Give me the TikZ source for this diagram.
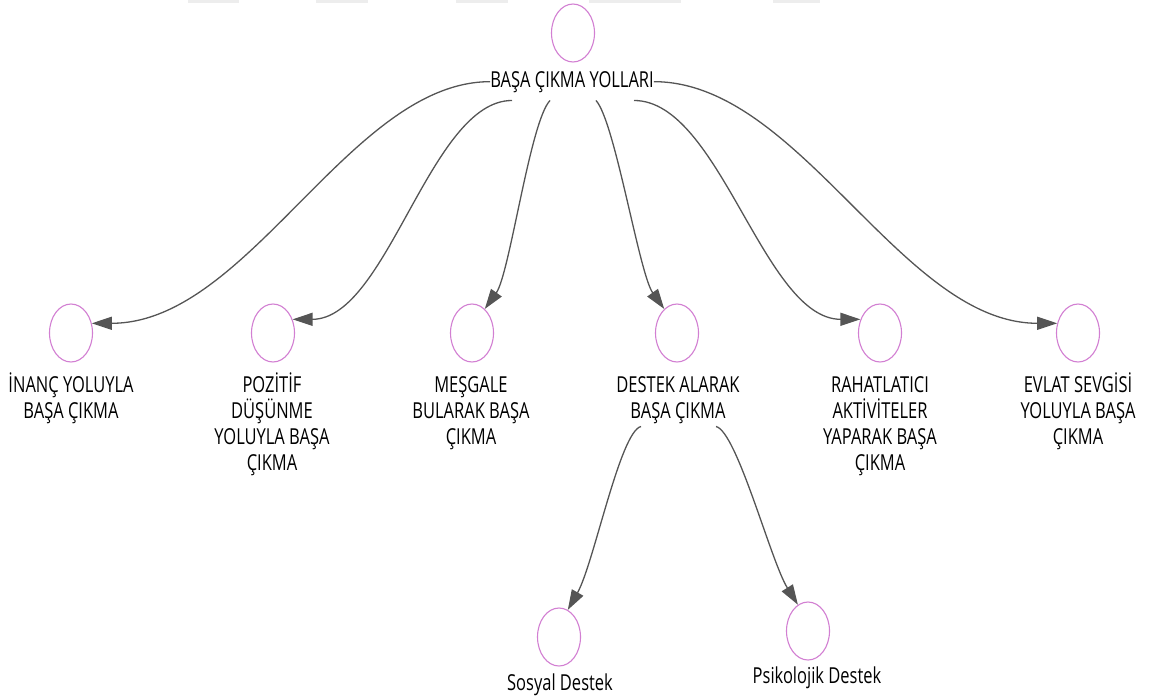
\documentclass[tikz,border=0pt]{standalone}
\usepackage{fontspec}
\setmainfont[FakeStretch=0.75]{Open Sans}
\usetikzlibrary{arrows.meta,shapes.geometric}
\definecolor{ringc}{HTML}{D27FD2}
\definecolor{linec}{HTML}{555555}
\definecolor{barc}{HTML}{EDEDED}
\tikzset{
  ring/.style={ellipse, draw=ringc, line width=1.1pt, minimum width=43pt, minimum height=58pt, inner sep=0pt},
  lbl/.style={font=\fontsize{22}{26}\selectfont, align=center, inner sep=0pt, anchor=base},
  conn/.style={draw=linec, line width=1.3pt, -{Triangle[length=20pt,width=13pt]}}
}
\begin{document}
\begin{tikzpicture}[x=1pt,y=-1pt]
\useasboundingbox (0,0) rectangle (1154,697);
% faint bars at the top edge
\foreach \a/\b in {188/239,316/368,456/508,589/681,773/820}
  \fill[barc] (\a,0) rectangle (\b,3);
% root
\node[ring] (top) at (573,33) {};
\node[lbl] (toplbl) at (572,87) {BAŞA ÇIKMA YOLLARI};
% leaves
\node[ring] (inanc) at (71,333) {};
\node[ring] (poz) at (273,333) {};
\node[ring] (mes) at (472,333) {};
\node[ring] (des) at (677,333) {};
\node[ring] (rah) at (880,333) {};
\node[ring] (evl) at (1078,333) {};
% base anchor = baseline of the last line (first line baseline at 392, pitch 26)
\node[lbl] (inanclbl) at (71,418) {İNANÇ YOLUYLA\\BAŞA ÇIKMA};
\node[lbl] (pozlbl) at (272,470) {POZİTİF\\DÜŞÜNME\\YOLUYLA BAŞA\\ÇIKMA};
\node[lbl] (meslbl) at (471,444) {MEŞGALE\\BULARAK BAŞA\\ÇIKMA};
\node[lbl] (deslbl) at (678,418) {DESTEK ALARAK\\BAŞA ÇIKMA};
\node[lbl] (rahlbl) at (880,470) {RAHATLATICI\\AKTİVİTELER\\YAPARAK BAŞA\\ÇIKMA};
\node[lbl] (evllbl) at (1078,444) {EVLAT SEVGİSİ\\YOLUYLA BAŞA\\ÇIKMA};
% sub leaves
\node[ring] (sos) at (559,637) {};
\node[ring] (psi) at (808,631) {};
\node[lbl] (soslbl) at (560,690) {Sosyal Destek};
\node[lbl] (psilbl) at (817,683) {Psikolojik Destek};
% connectors from root
\draw[conn] (toplbl.west) .. controls +(-140,0) and +(157,0) .. (inanc.25);
\draw[conn] ([xshift=-60pt,yshift=-8pt]toplbl.south) .. controls +(-82,0) and +(95,0) .. (poz.35);
\draw[conn] ([xshift=-22pt,yshift=-8pt]toplbl.south) .. controls +(-20,21) and +(25,-35) .. (mes.62);
\draw[conn] ([xshift=24pt,yshift=-8pt]toplbl.south) .. controls +(19,21) and +(-25,-35) .. (des.118);
\draw[conn] ([xshift=62pt,yshift=-8pt]toplbl.south) .. controls +(86,0) and +(-97,0) .. (rah.145);
\draw[conn] (toplbl.east) .. controls +(146,0) and +(-156,0) .. (evl.155);
% connectors from DESTEK
\draw[conn] ([xshift=-37pt,yshift=-3pt]deslbl.south) .. controls +(-21,5) and +(26,-46) .. (sos.72);
\draw[conn] ([xshift=38pt,yshift=-3pt]deslbl.south) .. controls +(21,5) and +(-27,-43) .. (psi.111);
\end{tikzpicture}
\end{document}
